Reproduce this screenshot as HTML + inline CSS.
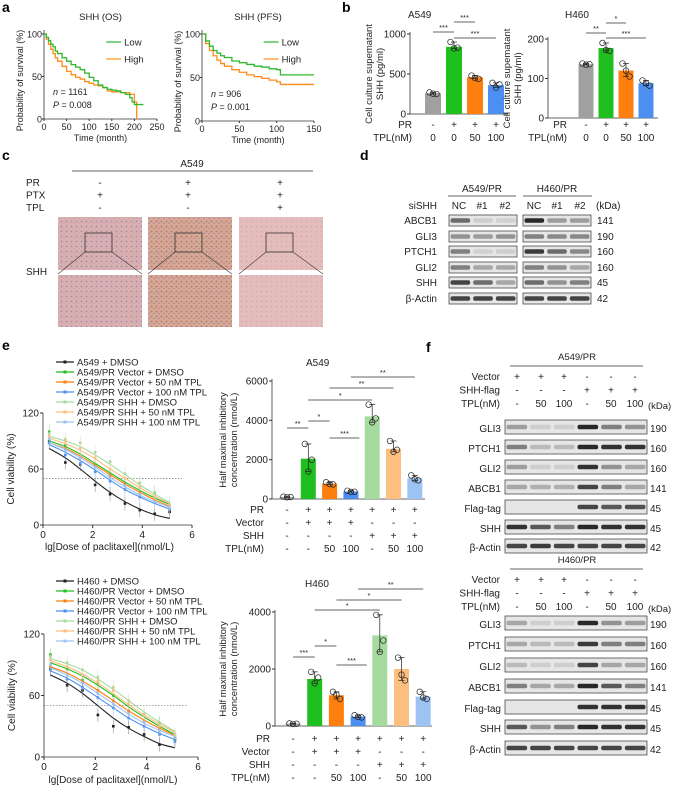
<!DOCTYPE html>
<html><head><meta charset="utf-8"><style>
html,body{margin:0;padding:0;background:#fff}
svg{display:block;font-family:"Liberation Sans",Arial,sans-serif}
</style></head><body>
<svg id="fig" width="675" height="787" viewBox="0 0 675 787">
<defs>
<pattern id="tis1" width="5" height="5" patternUnits="userSpaceOnUse"><rect width="5" height="5" fill="#d8b0b2"/><circle cx="1.5" cy="1.5" r="0.9" fill="#a98aa0"/><circle cx="4" cy="3.5" r="0.6" fill="#c9a0a4"/></pattern>
<pattern id="tis2" width="5" height="5" patternUnits="userSpaceOnUse"><rect width="5" height="5" fill="#d6a898"/><circle cx="1.5" cy="1.5" r="1" fill="#b88068"/><circle cx="4" cy="3.5" r="0.7" fill="#a88090"/></pattern>
<pattern id="tis3" width="5" height="5" patternUnits="userSpaceOnUse"><rect width="5" height="5" fill="#e4bcbc"/><circle cx="1.5" cy="1.5" r="0.7" fill="#cfa6aa"/></pattern>
</defs>
<g id="root"></g>
</svg>
<script>
// ---------- DATA ----------
const osTimeLow=[0,5,10,15,20,25,30,40,50,60,70,80,90,100,110,120,130,140,150,160,170,180,190,195,200,220];
const osSurvLow=[100,96,92,88,85,80,77,72,68,64,61,58,54,49,45,40,37,35,34,33,31,29,25,20,17,17];
const osTimeHigh=[0,5,10,15,20,25,30,40,50,60,70,80,90,100,110,120,130,140,150,170,190,200,205];
const osSurvHigh=[100,94,88,82,77,72,68,62,56,52,49,47,44,42,40,39,37,33,32,31,29,20,0];
const pfsTimeLow=[0,5,10,15,20,25,30,40,50,60,70,80,90,100,105,120,150];
const pfsSurvLow=[100,92,86,81,78,75,73,69,67,65,63,62,60,59,53,53,53];
const pfsTimeHigh=[0,5,10,15,20,25,30,40,50,60,70,80,90,100,105,120,150];
const pfsSurvHigh=[100,89,81,75,70,66,63,59,56,53,51,49,47,45,42,42,42];
const bLabelsPR=['-','+','+','+'];
const bLabelsTPL=['0','0','50','100'];
const bA549Means=[260,840,460,360];
const bA549Pts=[[270,255,250],[900,820,830],[480,450,440],[390,330,370]];
const bH460Means=[136,177,120,88];
const bH460Pts=[[138,135,136],[190,172,170],[138,120,105],[95,88,82]];
const doses=[0.25,0.9,1.5,2.1,2.7,3.3,3.9,4.5,5.1];
const a549Pts=[
[90,67,65,43,33,23,16,12,14],[100,85,72,65,55,45,40,34,20],[88,82,72,63,52,43,35,26,18],
[88,75,66,57,47,38,30,24,17],[98,92,88,78,68,55,45,35,22],[95,90,82,72,60,50,40,30,20],[92,80,72,62,50,42,33,25,18]];
const a549Fit=[
[82,72,60,47,35,25,17,11,7],[90,84,76,66,56,46,37,29,22],[88,82,74,64,54,44,35,27,20],
[86,78,69,59,48,38,30,23,17],[95,90,84,75,65,54,43,33,24],[93,87,80,71,60,50,40,31,23],[88,81,72,62,51,41,32,25,19]];
const h460Pts=[
[86,70,65,41,30,29,22,12,17],[100,86,75,72,60,45,35,33,18],[88,80,72,65,55,45,35,28,20],
[85,76,68,58,48,38,30,22,15],[98,92,85,78,68,55,42,32,22],[95,88,80,74,65,52,40,30,21],[90,80,72,62,52,42,34,25,19]];
const h460Fit=[
[80,72,62,50,38,28,20,13,9],[92,86,79,70,60,49,39,30,22],[88,82,74,65,55,45,36,28,21],
[84,77,68,58,48,38,30,23,17],[96,91,85,76,66,55,44,34,25],[94,88,81,72,62,51,41,32,24],[87,80,72,62,52,42,33,26,20]];
const seriesSuffix=[' + DMSO','/PR Vector + DMSO','/PR Vector + 50 nM TPL','/PR Vector + 100 nM TPL','/PR SHH + DMSO','/PR SHH + 50 nM TPL','/PR SHH + 100 nM TPL'];
const ic50A549Means=[100,2050,780,380,4200,2550,1050];
const ic50A549Pts=[[120,90,100],[2800,1400,2000],[850,760,740],[420,360,370],[4800,3900,4100],[2950,2400,2500],[1200,1000,950]];
const ic50H460Means=[80,1650,1080,330,3180,2000,1030];
const ic50H460Pts=[[90,70,80],[1900,1500,1700],[1200,1100,950],[380,320,300],[3900,2600,3000],[2400,1800,1600],[1200,1000,950]];
const icPR=['-','+','+','+','+','+','+'];
const icVec=['-','+','+','+','-','-','-'];
const icSHH=['-','-','-','-','+','+','+'];
const icTPL=['-','-','50','100','-','50','100'];
const dProteins=['ABCB1','GLI3','PTCH1','GLI2','SHH','β-Actin'];
const dKDa=['141','190','160','160','45','42'];
const dA549=[[0.6,0.1,0.08],[0.4,0.35,0.4],[0.5,0.08,0.1],[0.5,0.3,0.3],[0.8,0.6,0.3],[0.8,0.8,0.8]];
const dH460=[[0.95,0.35,0.35],[0.5,0.45,0.45],[0.85,0.6,0.45],[0.5,0.4,0.3],[0.6,0.4,0.5],[0.8,0.8,0.8]];
const fProteins=['GLI3','PTCH1','GLI2','ABCB1','Flag-tag','SHH','β-Actin'];
const fKDa=['190','160','160','141','45','45','42'];
const fA549=[[0.35,0.1,0.1,0.95,0.5,0.4],[0.5,0.2,0.2,0.95,0.9,0.9],[0.35,0.1,0.1,0.9,0.4,0.3],[0.3,0.25,0.25,0.8,0.5,0.3],[0,0,0,0.8,0.7,0.75],[0.9,0.7,0.5,0.95,0.9,0.9],[0.8,0.85,0.8,0.8,0.8,0.8]];
const fH460=[[0.3,0.1,0.1,0.95,0.4,0.35],[0.3,0.2,0.2,0.85,0.5,0.5],[0.2,0.1,0.1,0.8,0.3,0.3],[0.5,0.3,0.3,0.95,0.7,0.5],[0,0,0,0.9,0.9,0.9],[0.7,0.4,0.5,0.95,0.9,0.9],[0.8,0.8,0.8,0.8,0.8,0.8]];
const fVec=['+','+','+','-','-','-'];
const fFlag=['-','-','-','+','+','+'];
const fTPL=['-','50','100','-','50','100'];

// ---------- HELPERS ----------
const NS='http://www.w3.org/2000/svg';
const root=document.getElementById('root');
function el(tag,attrs,parent,text){const e=document.createElementNS(NS,tag);for(const k in attrs)e.setAttribute(k,attrs[k]);if(text!==undefined)e.textContent=text;(parent||root).appendChild(e);return e;}
function txt(x,y,s,size,anchor,parent,extra){return el('text',Object.assign({x:x,y:y,'font-size':size||9,'text-anchor':anchor||'middle',fill:'#222'},extra||{}),parent,s);}
function grp(name){const g=el('g',{});return g;}
const COLS=['#222','#1fbf1f','#ff7f0e','#4c8ff0','#a6dba0','#fdbf80','#9cc3f2'];
const BARCOLS=['#a0a0a0','#1fbf1f','#ff7f0e','#4c8ff0','#a6dba0','#fdbf80','#9cc3f2'];
function lin(d0,d1,r0,r1){return v=>r0+(v-d0)*(r1-r0)/(d1-d0);}

[['a',2,12],['b',342,12],['c',2,160],['d',360,160],['e',2,350],['f',426,352]].forEach(p=>{
  const t=txt(p[1],p[2],p[0],14,'start',root,{'font-weight':'bold',fill:'#000'});
  
});

// ---------- a: survival ----------
function survival(name,title,x0,x1,y0,y1,xmax,xticks,TL,SL,TH,SH,n,p){
  const g=grp(name);
  const X=lin(0,xmax,x0,x1),Y=lin(0,100,y0,y1);
  el('line',{x1:x0,y1:y1-4,x2:x0,y2:y0,stroke:'#333','stroke-width':0.8},g);
  el('line',{x1:x0,y1:y0,x2:x1,y2:y0,stroke:'#333','stroke-width':0.8},g);
  [0,50,100].forEach(v=>{el('line',{x1:x0-2,y1:Y(v),x2:x0,y2:Y(v),stroke:'#333'},g);txt(x0-2,Y(v)+3.5,String(v),9,'end',g);});
  xticks.forEach(v=>{el('line',{x1:X(v),y1:y0,x2:X(v),y2:y0+2,stroke:'#333'},g);txt(X(v),y0+11,String(v),9,'middle',g);});
  txt((x0+x1)/2,y0+22,'Time (month)',9,'middle',g);
  txt((x0+x1)/2,y1-14,title,9.5,'middle',g);
  const yl=txt(0,0,'Probability of survival (%)',9,'middle',g);yl.setAttribute('transform',`translate(${x0-21},${(y0+y1)/2+4}) rotate(-90)`);
  function step(T,S,c,nm){let d=`M${X(T[0])},${Y(S[0])}`;for(let i=1;i<T.length;i++){d+=`H${X(T[i])}V${Y(S[i])}`;}
    const pth=el('path',{d:d,fill:'none',stroke:c,'stroke-width':1.3},g);}
  step(TH,SH,'#ff8c1a',name+'-high-curve');step(TL,SL,'#2db82d',name+'-low-curve');
  const lx=x0+(x1-x0)*0.55;
  el('line',{x1:lx,y1:y1+8,x2:lx+15,y2:y1+8,stroke:'#2db82d','stroke-width':1.2},g);txt(lx+18,y1+11.5,'Low',9.5,'start',g);
  el('line',{x1:lx,y1:y1+25,x2:lx+15,y2:y1+25,stroke:'#ff8c1a','stroke-width':1.2},g);txt(lx+18,y1+28.5,'High',9.5,'start',g);
  const t1=txt(x0+9,y0-24,'',9,'start',g);t1.innerHTML='<tspan font-style="italic">n</tspan> = '+n;
  const t2=txt(x0+9,y0-11,'',9,'start',g);t2.innerHTML='<tspan font-style="italic">P</tspan> = '+p;
}
survival('os-chart','SHH (OS)',44,157,119,34,250,[0,50,100,150,200,250],osTimeLow,osSurvLow,osTimeHigh,osSurvHigh,1161,'0.008');
survival('pfs-chart','SHH (PFS)',202,314,121,34,150,[0,50,100,150],pfsTimeLow,pfsSurvLow,pfsTimeHigh,pfsSurvHigh,906,'0.001');

// ---------- bar chart helper ----------
function barChart(o){
  const g=grp(o.name);
  const Y=lin(0,o.ymax,o.y0,o.ytop);
  const fs=o.fs||10;
  el('line',{x1:o.ax,y1:o.y0,x2:o.ax,y2:o.ytop-2,stroke:'#333','stroke-width':0.8},g);
  el('line',{x1:o.ax,y1:o.y0,x2:o.xend,y2:o.y0,stroke:'#333','stroke-width':0.8},g);
  o.ticks.forEach(v=>{el('line',{x1:o.ax-3,y1:Y(v),x2:o.ax,y2:Y(v),stroke:'#333'},g);txt(o.ax-4,Y(v)+3.5,String(v),fs,'end',g);});
  o.means.forEach((m,i)=>{
    const cx=o.cx0+i*o.dx;
    const r=el('rect',{x:cx-o.bw/2,y:Y(m),width:o.bw,height:o.y0-Y(m),fill:BARCOLS[i]},g);
    
    const pts=o.pts[i];const mx=Math.max(...pts),mn=Math.min(...pts);
    el('line',{x1:cx,y1:Y(mx),x2:cx,y2:Y(mn),stroke:'#222','stroke-width':0.7},g);
    el('line',{x1:cx-3,y1:Y(mx),x2:cx+3,y2:Y(mx),stroke:'#222','stroke-width':0.7},g);
    el('line',{x1:cx-3,y1:Y(mn),x2:cx+3,y2:Y(mn),stroke:'#222','stroke-width':0.7},g);
    pts.forEach((p,k)=>el('circle',{cx:cx+(k-1)*3.5,cy:Y(p),r:2.8,fill:'none',stroke:'#222','stroke-width':0.7},g));
  });
  o.sig.forEach(s=>{const xa=o.cx0+s[0]*o.dx,xb=o.cx0+s[1]*o.dx;
    el('line',{x1:xa,y1:s[2],x2:xb,y2:s[2],stroke:'#333','stroke-width':0.7},g);txt((xa+xb)/2,s[2]-2,s[3],7.5,'middle',g);});
  o.rows.forEach((row,ri)=>{txt(o.rowLabelX,o.rowY[ri],row[0],fs,'end',g);
    row[1].forEach((s,i)=>txt(o.cx0+i*o.dx,o.rowY[ri],s,fs,'middle',g));});
  if(o.title)txt(o.titleX,o.titleY,o.title,10,'start',g);
  const yl=el('text',{'font-size':9.5,'text-anchor':'middle',fill:'#222',transform:`translate(${o.ylx},${(o.y0+o.ytop)/2}) rotate(-90)`},g);
  o.ylab.forEach((l,i)=>el('tspan',{x:0,dy:i?11:0},yl,l));
  return g;
}
barChart({name:'a549-shh-bar-chart',ax:410,xend:508,y0:114,ytop:34,ymax:1000,ticks:[0,500,1000],cx0:433,dx:21,bw:16,
  means:bA549Means,pts:bA549Pts,sig:[[0,1,32,'***'],[1,2,22,'***'],[1,3,38,'***']],
  rows:[['PR',bLabelsPR],['TPL(nM)',bLabelsTPL]],rowLabelX:412,rowY:[128,141],title:'A549',titleX:408,titleY:18,ylx:372,ylab:['Cell culture supematant','SHH (pg/ml)']});
barChart({name:'h460-shh-bar-chart',ax:548,xend:658,y0:118,ytop:39,ymax:200,ticks:[0,100,200],cx0:586,dx:20,bw:15,
  means:bH460Means,pts:bH460Pts,sig:[[0,1,33,'**'],[1,2,23,'*'],[1,3,38,'***']],
  rows:[['PR',bLabelsPR],['TPL(nM)',bLabelsTPL]],rowLabelX:567,rowY:[128,141],title:'H460',titleX:565,titleY:18,ylx:510,ylab:['Cell culture supematant','SHH (pg/ml)']});

// ---------- c: IHC ----------
(function(){
  const g=grp('ihc-panel');
  txt(192,167,'A549',10,'middle',g);
  el('line',{x1:72,y1:171,x2:313,y2:171,stroke:'#333','stroke-width':0.8},g);
  const rowsC=[['PR',['-','+','+']],['PTX',['+','+','+']],['TPL',['-','-','+']]];
  const cx=[100,188,280];
  rowsC.forEach((r,i)=>{txt(26,186+i*12.5,r[0],10,'start',g);r[1].forEach((s,k)=>txt(cx[k],186+i*12.5,s,10,'middle',g));});
  txt(26,275,'SHH',10,'start',g);
  const xs=[58,148,239];const fills=['url(#tis1)','url(#tis2)','url(#tis3)'];
  xs.forEach((x,k)=>{
    const a=el('rect',{x:x,y:217,width:84,height:53,fill:fills[k]},g);
    el('rect',{x:x+27,y:233,width:27,height:19,fill:'none',stroke:'#333','stroke-width':0.8},g);
    el('line',{x1:x+27,y1:252,x2:x,y2:274,stroke:'#333','stroke-width':0.6},g);
    el('line',{x1:x+54,y1:252,x2:x+84,y2:274,stroke:'#333','stroke-width':0.6},g);
    const b=el('rect',{x:x,y:275,width:84,height:52,fill:fills[k]},g);
  });
})();

// ---------- blots ----------
function blot(name,rows,kda,data,boxX,boxW,rowY,rowH,labelX,kdaX){
  const g=grp(name);
  rows.forEach((p,i)=>{txt(labelX,rowY[i]+rowH-2,p,10,'end',g);txt(kdaX,rowY[i]+rowH-2,kda[i],10,'start',g);
    boxX.forEach((bx,b)=>{
      el('rect',{x:bx,y:rowY[i],width:boxW,height:rowH,fill:'#e6e6e6',stroke:'#333','stroke-width':0.7},g);
      const lanes=data[b][i];const lw=boxW/lanes.length;
      lanes.forEach((v,l)=>{if(v<=0)return;const c=Math.round(225-195*v);
        const r=el('rect',{x:bx+l*lw+1.5,y:rowY[i]+rowH/2-2.2,width:lw-3,height:4.4,rx:2,fill:`rgb(${c},${c},${c})`},g);
        });
    });});
  return g;
}
(function(){
  const g=grp('d-header');
  txt(482,192,'A549/PR',10,'middle',g);txt(557,192,'H460/PR',10,'middle',g);
  el('line',{x1:448,y1:196,x2:516,y2:196,stroke:'#333','stroke-width':0.8},g);
  el('line',{x1:523,y1:196,x2:592,y2:196,stroke:'#333','stroke-width':0.8},g);
  txt(437,209,'siSHH',10,'end',g);
  ['NC','#1','#2'].forEach((s,i)=>{txt(459+i*23,209,s,10,'middle',g);txt(534+i*23,209,s,10,'middle',g);});
  txt(596,209,'(kDa)',10,'start',g);
})();
blot('blot-d',dProteins,dKDa,[dA549,dH460],[449,523],68,[215,231,246,262,277,293],11,437,597);

function fHeader(name,title,y){
  const g=grp(name);
  txt(577,y,title,9.5,'middle',g);
  el('line',{x1:510,y1:y+6,x2:643,y2:y+6,stroke:'#333','stroke-width':0.8},g);
  const cx=[517,541,564,587,611,635];
  [['Vector',fVec],['SHH-flag',fFlag],['TPL(nM)',fTPL]].forEach((r,i)=>{txt(500,y+20+i*13.5,r[0],10,'end',g);r[1].forEach((s,k)=>txt(cx[k],y+20+i*13.5,s,10,'middle',g));});
  txt(648,y+49,'(kDa)',9.5,'start',g);
}
fHeader('f-a549-header','A549/PR',360);
blot('blot-f-a549',fProteins,fKDa,[fA549],[505],142,[420,440,460,480,500,520,539],14,501,650);
fHeader('f-h460-header','H460/PR',563);
blot('blot-f-h460',fProteins,fKDa,[fH460],[505],142,[616,637,658,679,700,720,741],14,501,650);

// ---------- e: dose response ----------
function smooth(pts){let d=`M${pts[0][0]},${pts[0][1]}`;for(let i=0;i<pts.length-1;i++){const p0=pts[i-1]||pts[i],p1=pts[i],p2=pts[i+1],p3=pts[i+2]||p2;
  d+=`C${p1[0]+(p2[0]-p0[0])/6},${p1[1]+(p2[1]-p0[1])/6} ${p2[0]-(p3[0]-p1[0])/6},${p2[1]-(p3[1]-p1[1])/6} ${p2[0]},${p2[1]}`;}return d;}
function doseChart(name,cell,ptsArr,fitArr,x0,x1,y0,y1,legY,xlabY){
  const g=grp(name);
  const X=lin(0,6,x0,x1),Y=lin(0,120,y0,y1);
  el('line',{x1:x0,y1:y0,x2:x0,y2:y1,stroke:'#333','stroke-width':0.8},g);
  el('line',{x1:x0,y1:y0,x2:x1,y2:y0,stroke:'#333','stroke-width':0.8},g);
  [0,60,120].forEach(v=>{el('line',{x1:x0-3,y1:Y(v),x2:x0,y2:Y(v),stroke:'#333'},g);txt(x0-4,Y(v)+3.5,String(v),10,'end',g);});
  [0,2,4,6].forEach(v=>{el('line',{x1:X(v),y1:y0,x2:X(v),y2:y0+3,stroke:'#333'},g);txt(X(v),y0+13,String(v),10,'middle',g);});
  el('line',{x1:x0,y1:Y(50),x2:X(5.6),y2:Y(50),stroke:'#555','stroke-width':0.6,'stroke-dasharray':'1.5,1.5'},g);
  txt((x0+x1)/2-8,xlabY,'lg[Dose of paclitaxel](nmol/L)',10,'middle',g);
  const yl=txt(0,0,'Cell viability (%)',10,'middle',g);yl.setAttribute('transform',`translate(${x0-29},${(y0+y1)/2}) rotate(-90)`);
  ptsArr.forEach((vals,s)=>{
    const fit=fitArr[s].map((v,i)=>[X(doses[i]),Y(v)]);
    const p=el('path',{d:smooth(fit),fill:'none',stroke:COLS[s],'stroke-width':1.1},g);
    
    doses.forEach((d,i)=>{const px=X(d),py=Y(vals[i]);
      el('line',{x1:px,y1:py-7,x2:px,y2:py+7,stroke:COLS[s],'stroke-width':0.5,opacity:0.6},g);
      el('rect',{x:px-1.3,y:py-1.3,width:2.6,height:2.6,fill:COLS[s]},g);});
    el('line',{x1:56,y1:legY+s*10,x2:74,y2:legY+s*10,stroke:COLS[s],'stroke-width':1.2},g);
    el('rect',{x:63.5,y:legY+s*10-1.5,width:3,height:3,fill:COLS[s]},g);
    txt(77,legY+s*10+3.5,cell+seriesSuffix[s],9.5,'start',g);
  });
}
doseChart('a549-dose-response','A549',a549Pts,a549Fit,43,192,525,413,362,550);
doseChart('h460-dose-response','H460',h460Pts,h460Fit,44,198,757,634,581,783);

barChart({name:'a549-ic50-bar-chart',ax:272,xend:425,y0:499,ytop:381,ymax:6000,ticks:[0,2000,4000,6000],cx0:287,dx:21.3,bw:15,
  means:ic50A549Means,pts:ic50A549Pts,
  sig:[[0,1,428,'**'],[1,2,421,'*'],[2,3.4,438,'***'],[1,4,400,'*'],[2,5,388,'**'],[3,6,377,'**']],
  rows:[['PR',icPR],['Vector',icVec],['SHH',icSHH],['TPL(nM)',icTPL]],rowLabelX:264,rowY:[513,526,539,552],
  title:'A549',titleX:306,titleY:366,ylx:226,ylab:['Half maximal inhibitory','concentration (nmol/L)']});
barChart({name:'h460-ic50-bar-chart',ax:275,xend:432,y0:726,ytop:612,ymax:4000,ticks:[0,2000,4000],cx0:293,dx:21.7,bw:15,
  means:ic50H460Means,pts:ic50H460Pts,
  sig:[[0,1,657,'***'],[1,2,646,'*'],[2,3.4,665,'***'],[1,4,610,'*'],[2,5,600,'*'],[3,6,589,'**']],
  rows:[['PR',icPR],['Vector',icVec],['SHH',icSHH],['TPL(nM)',icTPL]],rowLabelX:270,rowY:[742,755,768,781],
  title:'H460',titleX:305,titleY:587,ylx:226,ylab:['Half maximal inhibitory','concentration (nmol/L)']});
</script>
</body></html>
